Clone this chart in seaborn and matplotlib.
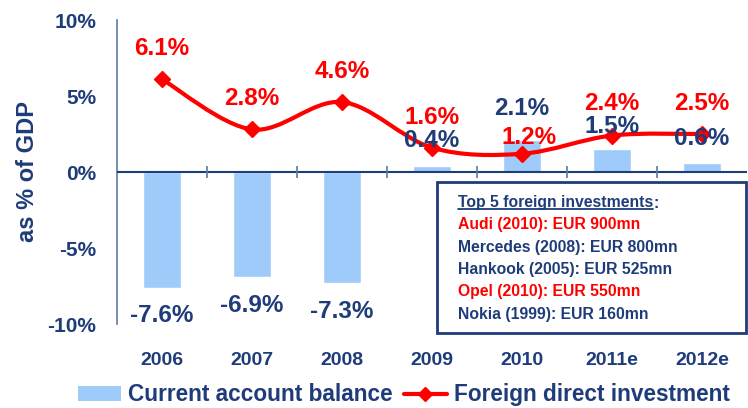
import seaborn as sns
import matplotlib.pyplot as plt
import pandas as pd
import numpy as np
from matplotlib.path import Path
from matplotlib.patches import PathPatch, Patch, Rectangle
from matplotlib.lines import Line2D

years = ['2006', '2007', '2008', '2009', '2010', '2011e', '2012e']
cab = [-7.6, -6.9, -7.3, 0.4, 2.1, 1.5, 0.6]    # current account balance, % of GDP
fdi = [6.1, 2.8, 4.6, 1.6, 1.2, 2.4, 2.5]       # foreign direct investment, % of GDP
box_title = 'Top 5 foreign investments'
investments = ['Audi (2010): EUR 900mn', 'Mercedes (2008): EUR 800mn',
               'Hankook (2005): EUR 525mn', 'Opel (2010): EUR 550mn',
               'Nokia (1999): EUR 160mn']
inv_red = [True, False, False, True, False]

navy = '#1F3C7A'
red = '#FF0000'
blue = '#9ECBFA'
tickc = '#5B7BA6'

sns.set_style('white')
plt.rcParams['font.family'] = ['Liberation Sans', 'DejaVu Sans']
plt.rcParams['font.weight'] = 'bold'

fig = plt.figure(figsize=(7.48, 4.08), dpi=100)
ax = fig.add_axes([117 / 748, 84 / 408, 630 / 748, 304 / 408])

df = pd.DataFrame({'year': years, 'cab': cab})
sns.barplot(data=df, x='year', y='cab', color=blue, width=0.42, saturation=1, ax=ax, zorder=2)

# smoothed FDI line (bezier through the points)
pts = np.column_stack([np.arange(len(fdi)), fdi]).astype(float)
verts = [pts[0]]
codes = [Path.MOVETO]
n = len(pts)
for i in range(n - 1):
    p0 = pts[max(i - 1, 0)]
    p1 = pts[i]
    p2 = pts[i + 1]
    p3 = pts[min(i + 2, n - 1)]
    verts += [p1 + (p2 - p0) / 6, p2 - (p3 - p1) / 6, p2]
    codes += [Path.CURVE4] * 3
ax.add_patch(PathPatch(Path(verts, codes), fill=False, edgecolor=red, lw=3, zorder=3))
ax.plot(range(n), fdi, ls='none', marker='D', color=red, ms=8, zorder=4)

ax.set_xlim(-0.5, n - 0.5)
ax.set_ylim(-10, 10)
ax.axhline(0, color=navy, lw=1.5, zorder=3)

# category boundary ticks on the zero line
ax.vlines(np.arange(n - 1) + 0.5, -0.4, 0.4, color=tickc, lw=1.2, zorder=3)

# value labels
fdi_off = [(0, 22), (0, 22), (0, 22), (0, 22), (5, 12), (0, 23), (0, 22)]
for i, v in enumerate(fdi):
    ax.annotate(f'{v:.1f}%', (i, v), xytext=fdi_off[i], textcoords='offset points',
                ha='center', va='center', color=red, fontsize=17.5, fontweight='bold', zorder=5)
cab_off = [-20.5, -20.5, -20.5, 18, 23, 16.5, 17.5]
for i, v in enumerate(cab):
    ax.annotate(f'{v:.1f}%', (i, v), xytext=(0, cab_off[i]), textcoords='offset points',
                ha='center', va='center', color=navy, fontsize=17.5, fontweight='bold', zorder=5)

for s in ['top', 'right', 'bottom']:
    ax.spines[s].set_visible(False)
ax.spines['left'].set_color(tickc)
ax.spines['left'].set_linewidth(1.2)

ax.set_yticks([-10, -5, 0, 5, 10])
ax.set_yticklabels(['-10%', '-5%', '0%', '5%', '10%'])
ax.tick_params(axis='y', direction='inout', length=10, width=1.2, color=tickc,
               labelsize=15, labelcolor=navy, pad=10)
ax.tick_params(axis='x', length=0, labelsize=14, labelcolor=navy, pad=20)
ax.set_xlabel('')
ax.set_ylabel('as % of GDP', fontsize=17, color=navy, fontweight='bold', labelpad=6)

# info box
fig.patches.append(Rectangle((437 / 748, (408 - 333) / 408), 309 / 748, 151 / 408,
                             transform=fig.transFigure, facecolor='white',
                             edgecolor=navy, lw=2, zorder=6))
ty = (408 - 203) / 408
t = fig.text(458 / 748, ty, box_title, color=navy, fontsize=11.3,
             fontweight='bold', va='center', ha='left', zorder=7)
fig.canvas.draw()
bb = t.get_window_extent().transformed(fig.transFigure.inverted())
fig.add_artist(Line2D([bb.x0, bb.x1], [bb.y0 + 0.003, bb.y0 + 0.003], transform=fig.transFigure,
                      color=navy, lw=1.3, zorder=7))
fig.text(bb.x1, ty, ':', color=navy, fontsize=11.3, fontweight='bold',
         va='center', ha='left', zorder=7)
for k, s in enumerate(investments):
    fig.text(458 / 748, (408 - 225 - 22.3 * k) / 408, s, color=red if inv_red[k] else navy,
             fontsize=11.3, fontweight='bold', va='center', ha='left', zorder=7)

handles = [Patch(facecolor=blue, edgecolor='none'),
           Line2D([], [], color=red, lw=3, marker='D', ms=7)]
fig.legend(handles, ['Current account balance', 'Foreign direct investment'],
           loc='center', bbox_to_anchor=(0.54, 0.032), ncol=2, frameon=False,
           labelcolor=navy, handlelength=1.9, handletextpad=0.3,
           columnspacing=0.5, prop={'weight': 'bold', 'size': 16.3})

fig.savefig('out.png', dpi=100)
